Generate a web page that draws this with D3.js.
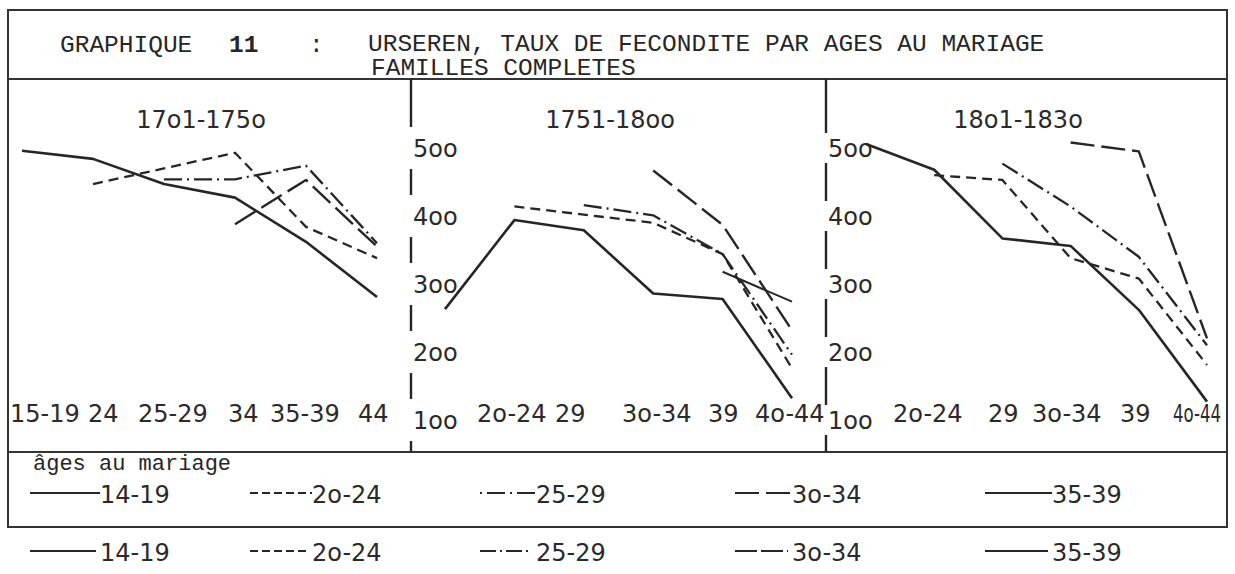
<!DOCTYPE html>
<html>
<head>
<meta charset="utf-8">
<script src="https://d3js.org/d3.v7.min.js"></script>
<style>
body { margin: 0; background: #fff; }
svg { display: block; }
.type { font-family: 'Liberation Mono', 'Courier New', monospace; fill: #262626; }
.hand { font-family: 'DejaVu Sans', sans-serif; fill: #2a2a2a; }
</style>
</head>
<body>
<svg></svg>
<script>

var width = 1235;
var height = 574;

// age groups on the x axis (age of the mother)
var ages = ["15-19", "20-24", "25-29", "30-34", "35-39", "40-44"];
// age at marriage = one line each
var groups = ["14-19", "2o-24", "25-29", "3o-34", "35-39"];
var periods = ["17o1-175o", "1751-18oo", "18o1-183o"];

var yTicks = [100, 200, 300, 400, 500];
var yTickLabels = ["1oo", "2oo", "3oo", "4oo", "5oo"];

// tick labels as typed under each panel
var xLabels1701 = ["15-19", "24", "25-29", "34", "35-39", "44"];
var xLabels1751 = ["2o-24", "29", "3o-34", "39", "4o-44"];
var xLabels1801 = ["2o-24", "29", "3o-34", "39", "4o-44"];

// fertility rates, one array per age at marriage (null = no value)
var r1701_14 = [496, 484, 447, 427, 362, 281];
var r1701_20 = [null, 447, 470, 493, 384, 338];
var r1701_25 = [null, null, 454, 454, 474, 360];
var r1701_30 = [null, null, null, 388, 453, 355];
var r1701_35 = [null, null, null, null, null, null];

var r1751_14 = [263, 394, 379, 286, 278, 132];
var r1751_20 = [null, 414, 402, 390, 344, 176];
var r1751_25 = [null, null, 416, 401, 344, 196];
var r1751_30 = [null, null, null, 467, 387, 232];
var r1751_35 = [null, null, null, null, 318, 274];

var r1801_14 = [506, 468, 367, 356, 262, 127];
var r1801_20 = [null, 460, 453, 338, 308, 181];
var r1801_25 = [null, null, 477, 414, 340, 210];
var r1801_30 = [null, null, null, 508, 495, 220];
var r1801_35 = [null, null, null, null, null, null];

var rates = [
	[r1701_14, r1701_20, r1701_25, r1701_30, r1701_35],
	[r1751_14, r1751_20, r1751_25, r1751_30, r1751_35],
	[r1801_14, r1801_20, r1801_25, r1801_30, r1801_35]
];
var xLabels = [xLabels1701, xLabels1751, xLabels1801];

// layout
var frame = { left: 8, right: 1227, top: 10, titleLine: 79, legendLine: 452, bottom: 527 };
var panelRange = [[22, 377], [445, 792], [866, 1207]];
var panelTitleX = [201, 610, 1018];
var dividerX = [411, 826];
var dividerGap = [21, 15];
var xLabelPos = [[10, 88, 138, 228, 270, 358], [477, 555, 622, 708, 755], [893, 988, 1032, 1120, 1173]];
var legendX = [30, 250, 480, 735, 985];
var legendTextX = [100, 312, 536, 792, 1052];

var lineStyle = [
	{ dash: null, w: 2.6 },
	{ dash: "10,6", w: 2.3 },
	{ dash: "18,5,2,5", w: 2.3 },
	{ dash: "24,7", w: 2.4 },
	{ dash: null, w: 2 }
];
var legendDash1 = [null, "8,4", "2,5,18,5", "24,7", null];
var legendDash2 = [null, "8,4", "16,4,2,4,16,4,2,4,2,40", "22,4,22,4,2,40", null];

var ink = "#262626";

var svg = d3.select("svg").attr("width", width).attr("height", height);

var yScale = d3.scaleLinear().domain([100, 500]).range([420, 148]);

// frame
var frameLines = svg.append("g").attr("stroke", "#333").attr("stroke-width", 2);
frameLines.append("rect")
	.attr("x", frame.left).attr("y", frame.top)
	.attr("width", frame.right - frame.left).attr("height", frame.bottom - frame.top)
	.attr("fill", "none");
[frame.titleLine, frame.legendLine].forEach(function (y) {
	frameLines.append("line").attr("x1", frame.left).attr("x2", frame.right).attr("y1", y).attr("y2", y);
});

// title
svg.append("text").attr("class", "type").attr("x", 60).attr("y", 43).attr("dy", "0.35em")
	.style("font-size", "24.5px").text("GRAPHIQUE");
svg.append("text").attr("class", "type").attr("x", 229).attr("y", 43).attr("dy", "0.35em")
	.style("font-size", "24.5px").style("font-weight", "bold").text("11");
svg.append("text").attr("class", "type").attr("x", 309).attr("y", 43).attr("dy", "0.35em")
	.style("font-size", "24.5px").text(":");
svg.append("text").attr("class", "type").attr("x", 368).attr("y", 42).attr("dy", "0.35em")
	.style("font-size", "24.5px").text("URSEREN, TAUX DE FECONDITE PAR AGES AU MARIAGE");
svg.append("text").attr("class", "type").attr("x", 371).attr("y", 66).attr("dy", "0.35em")
	.style("font-size", "24.5px").text("FAMILLES COMPLETES");

// broken vertical dividers, interrupted at the y tick labels
dividerX.forEach(function (x, k) {
	var cuts = yTicks.map(function (t) { return yScale(t); }).sort(d3.ascending);
	var start = frame.titleLine;
	cuts.forEach(function (c) {
		svg.append("line").attr("x1", x).attr("x2", x)
			.attr("y1", start).attr("y2", c - dividerGap[k])
			.attr("stroke", ink).attr("stroke-width", 2.4);
		start = c + dividerGap[k];
	});
	svg.append("line").attr("x1", x).attr("x2", x)
		.attr("y1", start).attr("y2", frame.legendLine)
		.attr("stroke", ink).attr("stroke-width", 2.4);

	svg.selectAll(null).data(yTicks).enter().append("text")
		.attr("class", "hand")
		.attr("x", x + 2)
		.attr("y", function (d) { return yScale(d); })
		.attr("dy", "0.36em")
		.style("font-size", "24px")
		.text(function (d, i) { return yTickLabels[i]; });
});

// panels
periods.forEach(function (p, pi) {
	var xScale = d3.scalePoint().domain(ages).range(panelRange[pi]);
	var g = svg.append("g");

	g.append("text").attr("class", "hand")
		.attr("x", panelTitleX[pi]).attr("y", 119).attr("dy", "0.36em")
		.attr("text-anchor", "middle")
		.style("font-size", "24px")
		.text(p);

	var line = d3.line()
		.defined(function (d) { return d.v != null; })
		.x(function (d) { return xScale(d.age); })
		.y(function (d) { return yScale(d.v); });

	rates[pi].forEach(function (series, gi) {
		var pts = series.map(function (v, i) { return { age: ages[i], v: v }; });
		if (pts.filter(function (d) { return d.v != null; }).length < 2) return;
		g.append("path")
			.attr("d", line(pts))
			.attr("fill", "none")
			.attr("stroke", ink)
			.attr("stroke-width", lineStyle[gi].w)
			.attr("stroke-dasharray", lineStyle[gi].dash)
			.attr("stroke-linejoin", "round");
	});

	g.selectAll(null).data(xLabels[pi]).enter().append("text")
		.attr("class", "hand")
		.attr("x", function (d, i) { return xLabelPos[pi][i]; })
		.attr("y", 413).attr("dy", "0.36em")
		.style("font-size", "24px")
		.each(function (d, i) {
			// last label of the last panel is squeezed against the frame
			if (pi == 2 && i == xLabels[pi].length - 1) {
				d3.select(this).attr("textLength", 48).attr("lengthAdjust", "spacingAndGlyphs");
			}
		})
		.text(function (d) { return d; });
});

// legend
svg.append("text").attr("class", "type").attr("x", 33).attr("y", 462).attr("dy", "0.35em")
	.style("font-size", "22px").text("âges au mariage");

function legendRow(y, dashes, lineEnd) {
	var row = svg.append("g");
	groups.forEach(function (name, gi) {
		row.append("line")
			.attr("x1", legendX[gi]).attr("x2", legendTextX[gi] + lineEnd)
			.attr("y1", y).attr("y2", y)
			.attr("stroke", ink)
			.attr("stroke-width", 1.8)
			.attr("stroke-dasharray", dashes[gi]);
		row.append("text").attr("class", "hand")
			.attr("x", legendTextX[gi]).attr("y", y + 1).attr("dy", "0.36em")
			.style("font-size", "24px")
			.text(name);
	});
}
legendRow(493, legendDash1, 0);
legendRow(551, legendDash2, -4);

</script>
</body>
</html>
